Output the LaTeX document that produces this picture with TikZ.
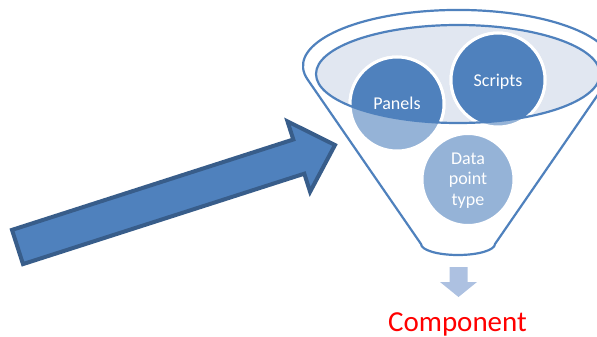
\documentclass[tikz,border=0pt]{standalone}
\usepackage{fontspec}
\setmainfont{Carlito}
\definecolor{funnelblue}{HTML}{4F81BD}
\definecolor{arrowedge}{HTML}{385D8A}
\definecolor{lightcircle}{HTML}{95B3D7}
\definecolor{ellipsefill}{HTML}{E1E7F1}
\definecolor{downarrow}{HTML}{ADC1E1}
\begin{document}
\begin{tikzpicture}[x=1pt,y=-1pt,
  funnel/.style={draw=funnelblue, line width=2.2pt},
  bubble/.style={draw=white, line width=3pt},
  bubbletext/.style={text=white, inner sep=0pt, font=\fontsize{18}{20.5}\selectfont},
  bigarrow/.style={fill=funnelblue, draw=arrowedge, line width=4pt, line join=miter}]
\useasboundingbox (0,0) rectangle (597,337);
\clip (0,0) rectangle (597,337);

% funnel body: top arc of the rim, straight sides, rounded bottom
\draw[funnel, fill=white, line join=round]
  (307.6,79.5) arc[start angle=166, end angle=374, x radius=155, y radius=56]
  -- (495,244) arc[start angle=0, end angle=180, x radius=37, y radius=11]
  -- cycle;

% inner opening of the funnel
\fill[ellipsefill] (458,74) ellipse[x radius=142, y radius=49];

% bubbles, pale where they hang below the opening
\path[bubble, fill=lightcircle] (397,104) circle[radius=47];
\path[bubble, fill=lightcircle] (498,80) circle[radius=47];
\path[bubble, fill=lightcircle] (468,179.5) circle[radius=46];
\begin{scope}
  \clip (458,74) ellipse[x radius=142, y radius=49];
  \path[bubble, fill=funnelblue] (397,104) circle[radius=47];
  \path[bubble, fill=funnelblue] (498,80) circle[radius=47];
\end{scope}
\draw[funnel] (458,74) ellipse[x radius=142, y radius=49];

% bubble labels
\node[bubbletext, anchor=base] (panels) at (397,110) {Panels};
\node[bubbletext, anchor=base] (scripts) at (498,87) {Scripts};
\node[bubbletext, align=center] (datatype) at (468,180.4) {Data\\point\\type};

% big input arrow
\filldraw[bigarrow] (12,229.9) -- (293.3,139.5) -- (287.5,121.4) -- (335,145)
  -- (310.1,191.8) -- (304.3,173.7) -- (23,264.1) -- cycle;

% output arrow and result
\fill[downarrow] (449.5,267) -- (467.5,267) -- (467.5,282) -- (477,282)
  -- (458.5,297) -- (440,282) -- (449.5,282) -- cycle;
\node[text=red, inner sep=0pt, anchor=base, font=\fontsize{29}{31}\selectfont]
  (component) at (457.5,331) {Component};
\end{tikzpicture}
\end{document}
